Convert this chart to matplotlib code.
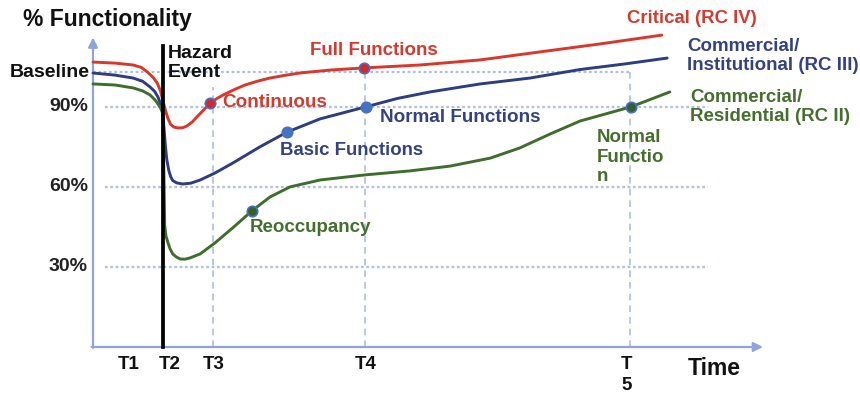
import matplotlib

matplotlib.use("Agg")

import matplotlib.pyplot as plt

plt.rcParams["font.family"] = ["Liberation Sans", "DejaVu Sans"]
plt.rcParams["font.weight"] = "bold"

# time axis (arbitrary units, 0 = y axis, 100 = arrow tip) and % functionality
tick_names = ["T1", "T2", "T3", "T4", "T\n5"]
tick_times = [5.2, 10.4, 17.9, 40.6, 80.1]
pct_ticks = [30, 60, 90]
pct_labels = ["30%", "60%", "90%"]
baseline = 103
hazard_time = 10.4

critical_t = [0.0, 3.3, 6.0, 7.2, 8.1, 9.0, 9.6, 10.1, 10.4, 10.8, 11.2, 11.6, 12.1, 12.7,
              13.4, 14.0, 14.8, 15.5, 16.5, 17.5, 18.6, 19.7, 21.2, 22.7, 24.5, 26.4, 28.6,
              30.9, 35.4, 40.4, 48.8, 57.8, 66.7, 75.7, 84.9]
critical_v = [106.8, 106.4, 105.7, 104.8, 103.1, 101.0, 98.9, 95.8, 92.6, 88.8, 85.6, 83.4,
              82.4, 82.1, 82.2, 82.8, 84.3, 86.2, 88.8, 91.5, 93.3, 94.8, 96.6, 98.2, 99.6,
              100.8, 101.8, 102.7, 103.8, 104.6, 105.7, 107.6, 110.6, 113.6, 116.9]

institutional_t = [0.0, 3.3, 6.0, 7.4, 8.5, 9.2, 9.7, 10.1, 10.4, 10.6, 10.8, 11.0, 11.3,
                   11.6, 11.9, 12.5, 13.4, 14.6, 16.0, 18.2, 20.9, 24.9, 29.0, 33.9, 40.7,
                   45.5, 50.3, 57.8, 65.2, 72.7, 79.4, 85.7]
institutional_v = [102.7, 101.9, 100.8, 99.6, 97.5, 95.8, 93.7, 91.0, 88.1, 82.0, 75.7, 70.5,
                   66.3, 63.8, 62.4, 61.5, 61.1, 61.4, 62.6, 65.2, 69.0, 75.0, 80.6, 85.5,
                   90.0, 93.2, 95.6, 98.6, 100.8, 104.0, 106.1, 108.3]

residential_t = [0.0, 3.3, 6.0, 7.4, 8.5, 9.3, 10.0, 10.4, 10.6, 10.7, 10.9, 11.2, 11.5, 11.9,
                 12.4, 13.0, 13.7, 14.5, 16.0, 18.2, 21.2, 23.7, 26.4, 29.4, 33.9, 40.6, 47.3,
                 53.3, 59.3, 63.7, 68.2, 72.7, 80.3, 86.1]
residential_v = [98.6, 98.2, 97.1, 96.0, 94.5, 92.5, 90.0, 87.7, 62.6, 45.7, 41.5, 39.0, 36.8,
                 34.9, 33.8, 33.0, 32.9, 33.4, 34.9, 39.0, 45.4, 51.0, 56.2, 60.0, 62.6, 64.5,
                 66.0, 67.8, 70.8, 74.6, 79.8, 84.7, 90.0, 95.6]

# milestone points (time, value)
critical_marks = [(17.5, 91.5), (40.4, 104.6)]
institutional_marks = [(29.0, 80.6), (40.7, 90.0)]
residential_marks = [(23.7, 51.0), (80.3, 90.0)]

RED, BLUE, GREEN = "#d8382b", "#2d3d80", "#3f6d2b"
RED_TXT, BLUE_TXT, GREEN_TXT = "#d43a2e", "#34437f", "#466f2f"
AXIS = "#8ea5dc"
GRID = "#aebde6"

fig = plt.figure(figsize=(8.6, 4.0), dpi=100)
ax = fig.add_axes([0, 0, 1, 1])
ax.set_xlim(-13.88, 114.48)
ax.set_ylim(-19.87, 130.06)
ax.axis("off")

# guide lines
for v in pct_ticks:
    ax.plot([1.8, 91.8], [v, v], ls=(0, (1.2, 1.2)), color=GRID, lw=1.6, zorder=1)
ax.plot([0, tick_times[4]], [baseline, baseline], ls=(0, (1.2, 1.2)), color=GRID, lw=1.6, zorder=1)
ax.plot([tick_times[2]] * 2, [0, 97.5], ls=(0, (4, 3)), color=GRID, lw=1.2, zorder=1)
ax.plot([tick_times[3]] * 2, [0, critical_marks[1][1]], ls=(0, (4, 3)), color=GRID, lw=1.2, zorder=1)
ax.plot([tick_times[4]] * 2, [0, baseline], ls=(0, (4, 3)), color=GRID, lw=1.2, zorder=1)

# axes arrows
ax.annotate("", xy=(0, 116), xytext=(0, -0.3),
            arrowprops=dict(arrowstyle="-|>", color=AXIS, lw=1.6, mutation_scale=14,
                            shrinkA=0, shrinkB=0), zorder=2)
ax.annotate("", xy=(100, 0), xytext=(-0.2, 0),
            arrowprops=dict(arrowstyle="-|>", color=AXIS, lw=1.6, mutation_scale=14,
                            shrinkA=0, shrinkB=0), zorder=2)

# recovery curves
line_kw = dict(lw=2.1, zorder=3, solid_joinstyle="round", solid_capstyle="round")
ax.plot(critical_t, critical_v, color=RED, **line_kw)
ax.plot(institutional_t, institutional_v, color=BLUE, **line_kw)
ax.plot(residential_t, residential_v, color=GREEN, **line_kw)

# hazard event
ax.plot([hazard_time, hazard_time], [0, 113], color="black", lw=2.7, zorder=4)

mk = dict(marker="o", ms=7.5, mec="#4a6fc7", mew=1.2, ls="none", zorder=5)
ax.plot(*zip(*critical_marks), mfc="#d02a2e", **mk)
ax.plot(*zip(*institutional_marks), mfc="#4472c4", **mk)
ax.plot(*zip(*residential_marks), mfc="#35602d", **mk)

# labels
ax.text(-10.45, 122.6, "% Functionality", fontsize=16.5, va="center", ha="left", color="#111111")
ax.text(-0.45, baseline, "Baseline", fontsize=14, va="center", ha="right", color="#111111")
for v, lab in zip(pct_ticks, pct_labels):
    ax.text(-0.75, v, lab, fontsize=14, va="center", ha="right", color="#222222")
for t, lab in zip(tick_times, tick_names):
    dx = 1.0 if lab == "T2" else 0.1
    if "\n" in lab:
        ax.text(t - 0.5, -10.5, lab, fontsize=13.5, va="center", ha="center", color="#111111",
                linespacing=1.3)
    else:
        ax.text(t + dx, -6.7, lab, fontsize=13.5, va="center", ha="center", color="#111111")
ax.text(88.8, -7.9, "Time", fontsize=16.5, va="center", ha="left", color="#111111")

ax.text(11.2, 106.3, "Hazard\nEvent", fontsize=14, va="center", ha="left", color="#111111",
        linespacing=1.15, zorder=6)
ax.text(19.3, 91.5, "Continuous", fontsize=13.6, va="center", ha="left", color=RED_TXT)
ax.text(32.4, 111.3, "Full Functions", fontsize=13.5, va="center", ha="left", color=RED_TXT)
ax.text(27.9, 73.8, "Basic Functions", fontsize=13.4, va="center", ha="left", color=BLUE_TXT)
ax.text(42.8, 86.2, "Normal Functions", fontsize=13.6, va="center", ha="left", color=BLUE_TXT)
ax.text(23.4, 44.6, "Reoccupancy", fontsize=13.5, va="center", ha="left", color=GREEN_TXT)
ax.text(75.2, 71.2, "Normal\nFunctio\nn", fontsize=13.5, va="center", ha="left", color=GREEN_TXT,
        linespacing=1.2)
ax.text(79.7, 123.3, "Critical (RC IV)", fontsize=13.4, va="center", ha="left", color=RED_TXT)
ax.text(88.7, 109.1, "Commercial/\nInstitutional (RC III)", fontsize=13.5, va="center", ha="left",
        color=BLUE_TXT)
ax.text(89.1, 90.0, "Commercial/\nResidential (RC II)", fontsize=13.5, va="center", ha="left",
        color=GREEN_TXT)

fig.savefig("out.png", dpi=100, facecolor="white")
